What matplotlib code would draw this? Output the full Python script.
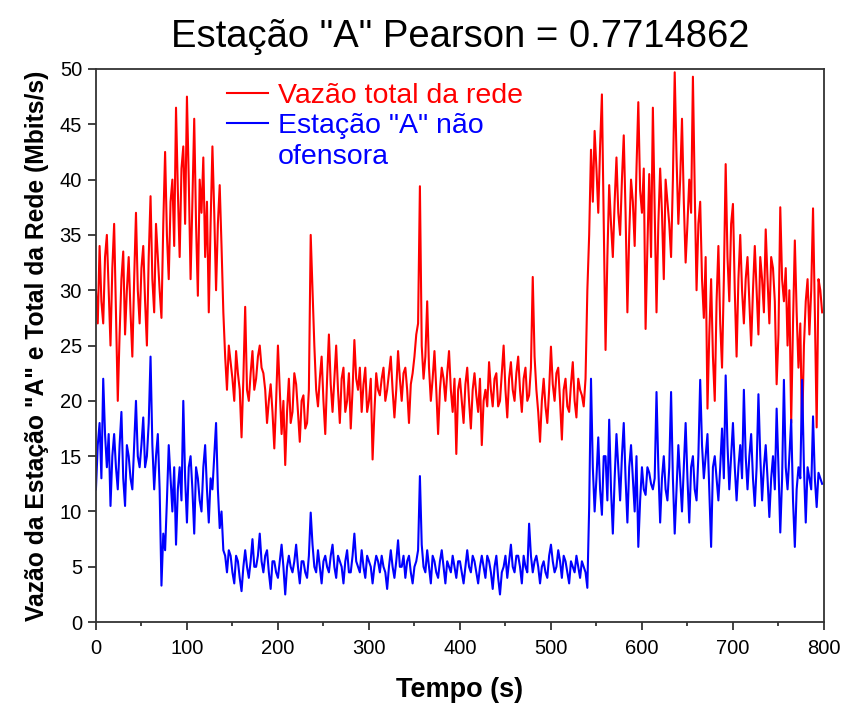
import numpy as np
import matplotlib
matplotlib.use("Agg")
import matplotlib.pyplot as plt
from matplotlib.ticker import MultipleLocator
from matplotlib.lines import Line2D

# ---------- dados (amostra a cada 2 s) ----------
tempo = np.arange(0, 800, 2)

vazao_total = [
    30, 27, 34, 29, 27, 33, 35, 30, 25, 32, 36, 28, 20, 26, 31, 33.5, 26, 30, 33, 28,
    24, 31, 37, 30, 27, 32, 34, 29, 25, 33, 38.5, 31, 28, 36, 33, 30, 27.5, 36, 42.5, 35,
    31, 38, 40, 34, 46.5, 39, 33, 41, 43, 36, 47.5, 40, 31, 38, 45.5, 36, 29.5, 40, 37, 42,
    33, 38, 28, 36, 43, 37, 30, 36, 39.5, 34, 28, 24, 21, 25, 23.5, 22, 20, 24.5, 22.5, 21,
    16.7, 22, 28.5, 21, 20, 22.5, 24.5, 21, 22, 24, 25, 23, 22.5, 21, 18, 20, 21.5, 19, 15.7, 20,
    25, 21, 17, 20, 14.2, 19, 22, 18, 19, 22.5, 21.5, 19, 16.3, 20, 20.5, 17.5, 18, 21, 35, 30,
    25, 21, 19.5, 22, 24, 20, 17, 22, 26, 21.5, 19, 22, 25, 21, 18, 22, 23, 19, 20, 22.5,
    17.5, 21, 25.5, 22, 21, 23, 19, 21.5, 23, 19, 20, 22, 14.7, 19, 22.5, 21, 20.5, 22, 23, 20,
    21, 22.5, 24, 21, 18.5, 21, 24.5, 22, 20, 22.5, 23, 21, 18, 21.5, 22.5, 24, 26, 27, 39.4, 25,
    22, 24, 29, 23, 20, 22, 24.5, 21, 17, 21, 23, 22, 20, 22.5, 24.5, 21, 19, 22, 15.2, 21,
    22, 20, 18, 21.5, 23, 20, 17.5, 21, 22.5, 20.5, 19, 22, 16, 20, 21, 19.5, 23.5, 21, 19.5, 22,
    22.5, 19.5, 20, 22.5, 25, 21, 18.5, 22, 23.5, 21, 20, 22.5, 24, 21, 19, 22, 23, 20, 20.5, 23,
    31.2, 24, 21, 19, 16.3, 20, 22, 19.5, 18, 21, 24.9, 21.5, 20, 22.5, 23, 20, 16.5, 21, 22, 19.5,
    19, 21.5, 23.5, 20, 18.5, 22, 21, 20.5, 19.5, 22, 30, 35, 42.7, 38, 44.4, 41, 37, 43, 47.7, 36,
    24.6, 33, 39.5, 36, 33, 38, 42, 37, 35, 40, 44, 37, 28, 35, 40, 38, 34, 41, 47, 39,
    37, 41, 26.5, 34, 40.5, 33, 46.5, 37, 28, 36, 41, 37, 31, 40, 38, 36, 33, 40, 49.7, 42,
    36, 40, 45.5, 38, 32.5, 36, 40, 37, 49.3, 39, 30, 36, 38, 31, 27.5, 33, 19.3, 26, 31, 24,
    20, 29, 34, 27, 23, 31, 41.4, 33, 29, 36, 37.8, 30, 24, 31, 35, 30, 27, 31, 33, 29,
    25, 30, 34, 30, 26, 33, 31, 28, 35.5, 31, 27, 33, 32, 29, 21.5, 26, 37.5, 31, 29, 32,
    25, 30, 18, 27, 34.5, 28, 23, 27, 17, 25, 29, 31, 26, 30, 37.4, 28, 17.6, 31, 30, 28,
]

vazao_estacao_a = [
    12, 16, 18, 13, 22, 17, 14, 17, 10.5, 15, 17, 14, 12, 16, 19, 13, 10.5, 16, 15, 13,
    12, 16, 20, 15, 14, 16, 18.5, 14, 15, 18, 24, 16, 12, 15, 17, 12, 3.3, 8, 6.5, 11,
    16, 13, 10, 14, 7, 12, 14, 11, 20, 13, 9, 14, 15, 12, 8, 14, 13, 11, 10, 14,
    16, 12, 9, 13, 12, 15, 18, 12, 8.5, 10, 6.5, 6, 4.5, 6.5, 6, 4.5, 3.5, 6, 5.5, 4,
    2.8, 5, 6.5, 5, 4, 5.5, 7.5, 5, 5, 6, 8, 5.5, 4.5, 6, 6.5, 4.5, 3, 5.5, 5.5, 4.5,
    4, 5.5, 7, 5, 2.5, 5, 6, 5, 4.5, 5.5, 7, 5, 3.5, 5.5, 5.5, 4.5, 4, 6, 9.9, 7,
    5, 4.5, 6.5, 5, 3.5, 5.5, 6, 5, 4.5, 6, 7, 5, 4, 6, 5.5, 5, 3.5, 5.5, 6.5, 4.5,
    4.5, 6, 8, 5.5, 5, 4.5, 6.5, 5, 4, 6, 5.5, 5, 3.5, 5, 6, 5.5, 4.5, 6, 5, 4.5,
    3, 5, 6.5, 5, 4, 5.5, 7.4, 5, 5, 6, 4, 5.5, 6, 4.5, 3.5, 5, 5.5, 6.5, 13.2, 7,
    5, 4.5, 6.5, 5, 3.5, 6, 5.5, 4.5, 4, 5.5, 6.5, 5, 3.5, 5.5, 5, 4.5, 6, 5, 4, 5.5,
    5.5, 4.5, 3.5, 5, 6.5, 5, 4.5, 6, 5.5, 4.5, 3.5, 5, 6, 5, 4, 6, 5.5, 4.5, 3, 5,
    6, 4, 2.5, 4.5, 5, 6, 4, 5.5, 7, 5, 4.5, 6, 6, 5, 3.5, 6, 5, 4.5, 8.9, 6,
    4.5, 5.5, 6, 5, 3.5, 5, 5.5, 4.5, 4, 6, 7, 5.5, 4.5, 5, 6.5, 5.5, 4, 6, 5.5, 4.5,
    3.5, 5.5, 5, 4.5, 6, 5, 4, 5.5, 5, 4.5, 3.1, 10.4, 22, 14, 10, 13, 16.7, 12, 9.7, 15,
    15, 11, 18.3, 12, 8, 13, 17, 14, 11, 15, 18, 13, 9, 14, 16, 13, 10, 15, 6.8, 11,
    14, 12, 11.5, 14, 13.5, 12.5, 12, 13, 20.8, 14, 9, 13, 15, 12, 11, 14, 20.8, 13, 8, 12,
    16, 13, 10, 14, 18, 13, 9, 14, 15, 12, 11, 15, 21.9, 16, 13, 15, 17, 12, 6.8, 14,
    15, 13, 11, 14, 17.5, 13, 22.3, 16, 12, 15, 18, 14, 11, 14, 16, 13, 21, 15, 12, 15,
    17, 13, 10.5, 14, 20.6, 15, 11, 14, 16, 13, 9.5, 13, 15, 12, 19.3, 14, 8.1, 13, 21.9, 14,
    12, 15, 18.3, 11, 6.8, 12, 14, 13, 21.9, 14, 9, 14, 13, 12, 18.6, 13, 10.4, 13.5, 13, 12.5,
]

rotulo_total = "Vazão total da rede"
rotulo_estacao = ["Estação \"A\" não", "ofensora"]
titulo = "Estação \"A\" Pearson = 0.7714862"

assert len(vazao_total) == len(tempo) == len(vazao_estacao_a)

# ---------- figura ----------
plt.rcParams['font.family'] = ['Liberation Sans', 'DejaVu Sans']

fig = plt.figure(figsize=(8.49, 7.11), dpi=100)
ax = fig.add_axes([0.113, 0.125, 0.8575, 0.778])

l_total, = ax.plot(tempo, vazao_total, color='#ff0000', lw=1.5)
l_est, = ax.plot(tempo, vazao_estacao_a, color='#0000ff', lw=1.5)

ax.set_xlim(0, 800)
ax.set_ylim(0, 50)
ax.xaxis.set_major_locator(MultipleLocator(100))
ax.xaxis.set_minor_locator(MultipleLocator(50))
ax.yaxis.set_major_locator(MultipleLocator(5))

for s in ax.spines.values():
    s.set_color('#333333')
    s.set_linewidth(1.3)

ax.tick_params(axis='both', which='major', direction='out', length=6,
               width=1.3, color='#333333', labelsize=14.5, pad=4)
ax.tick_params(axis='x', which='major', pad=6)
ax.tick_params(axis='x', which='minor', direction='out', length=3,
               width=1.3, color='#333333')

ax.set_title(titulo, fontsize=27.5, pad=16)
ax.set_xlabel("Tempo (s)", fontsize=19.5, fontweight='bold', labelpad=14)
ax.set_ylabel("Vazão da Estação \"A\" e Total da Rede (Mbits/s)",
              fontsize=17.7, fontweight='bold', labelpad=8)

# legenda: segunda linha do rótulo azul sem marcador
vazio = Line2D([], [], color='none')
ax.legend([l_total, l_est, vazio], [rotulo_total] + rotulo_estacao,
          loc='upper left', bbox_to_anchor=(0.18, 0.975), frameon=False,
          fontsize=20.5, labelcolor=['#ff0000', '#0000ff', '#0000ff'],
          handlelength=1.45, handletextpad=0.35, borderpad=0,
          borderaxespad=0, labelspacing=0.16)

fig.savefig("out.png", dpi=100)
